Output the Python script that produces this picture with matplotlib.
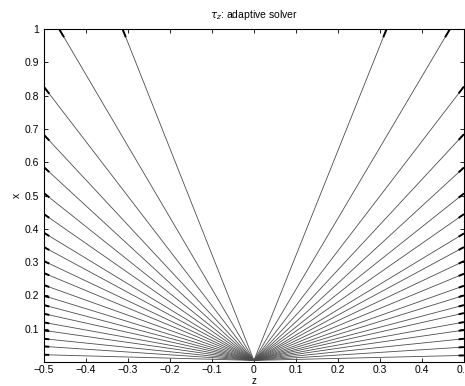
import matplotlib
matplotlib.use('Agg')
import matplotlib.pyplot as plt
import numpy as np

# heights where the rays hit the left / right edges (z = -0.5 / 0.5)
left_heights = [0.022, 0.047, 0.070, 0.095, 0.119, 0.145, 0.171, 0.199, 0.231,
                0.267, 0.303, 0.345, 0.388, 0.444, 0.507, 0.585, 0.682, 0.826]
right_heights = [0.020, 0.045, 0.070, 0.096, 0.120, 0.147, 0.171, 0.200, 0.229,
                 0.265, 0.303, 0.345, 0.386, 0.444, 0.506, 0.584, 0.684, 0.827]
# z positions where the steepest rays hit the top (x = 1)
top_z = [-0.464, -0.313, 0.316, 0.467]
origin = (0.0, 0.005)

plt.rcParams['font.family'] = ['Liberation Sans', 'DejaVu Sans']

fig = plt.figure(figsize=(4.65, 3.86), dpi=100)
ax = fig.add_axes([0.0946, 0.062, 0.903, 0.863])

ends = [(-0.5, h) for h in left_heights] + [(0.5, h) for h in right_heights] \
    + [(z, 1.0) for z in top_z]

for zend, xend in ends:
    ax.plot([origin[0], zend], [origin[1], xend], color='0.3', lw=0.6)
    # short bold tip at the end of each ray
    zt = zend - 0.025 * (zend - origin[0])
    xt = xend - 0.025 * (xend - origin[1])
    ax.plot([zt, zend], [xt, xend], color='k', lw=1.4, solid_capstyle='butt')

ax.set_xlim(-0.5, 0.5)
ax.set_ylim(0, 1)
ax.set_xticks(np.arange(-0.5, 0.51, 0.1))
ax.set_xticklabels(['\u22120.5', '\u22120.4', '\u22120.3', '\u22120.2', '\u22120.1', '0',
                    '0.1', '0.2', '0.3', '0.4', '0.5'])
ax.set_yticks(np.arange(0.1, 1.01, 0.1))
ax.set_yticklabels(['0.1', '0.2', '0.3', '0.4', '0.5', '0.6', '0.7', '0.8', '0.9', '1'])
ax.tick_params(direction='in', top=True, right=True, labelsize=7.5, length=3, width=0.6)
ax.tick_params(axis='x', pad=2)
for s in ax.spines.values():
    s.set_linewidth(0.8)

ax.set_title(r'$\tau_z$: adaptive solver', fontsize=7.5, pad=8)
ax.set_xlabel('z', fontsize=7, va='center')
ax.xaxis.set_label_coords(0.5, -0.058)
ax.set_ylabel('x', fontsize=7.5, labelpad=2)

plt.savefig('out.png', dpi=100)
